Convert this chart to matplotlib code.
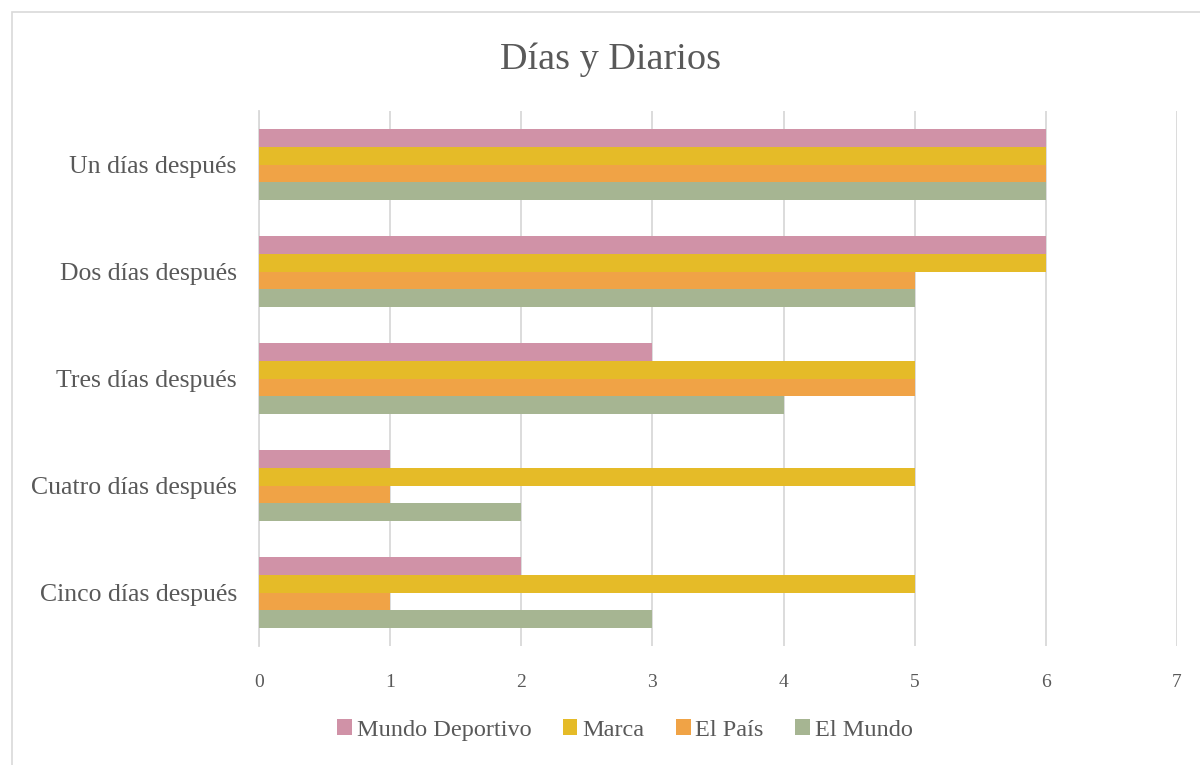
import numpy as np
import matplotlib.pyplot as plt
from matplotlib.patches import Rectangle

# Data
categories = ['Un días después', 'Dos días después', 'Tres días después',
              'Cuatro días después', 'Cinco días después']
series_names = ['Mundo Deportivo', 'Marca', 'El País', 'El Mundo']
mundo_deportivo = [6, 6, 3, 1, 2]
marca = [6, 6, 5, 5, 5]
el_pais = [6, 5, 5, 1, 1]
el_mundo = [6, 5, 4, 2, 3]
x_ticks = [0, 1, 2, 3, 4, 5, 6, 7]

colors = ['#D092A7', '#E5BB28', '#F0A346', '#A6B592']
text_color = '#595959'
grid_color = '#D9D9D9'

plt.rcParams['font.family'] = ['Liberation Serif', 'DejaVu Serif']

fig = plt.figure(figsize=(12, 7.65), dpi=100)
ax = fig.add_axes([259 / 1200, 1 - 646 / 765, (1177 - 259) / 1200, (646 - 111) / 765])

# chart border
fig.patches.append(Rectangle((12 / 1200, -0.1), 1.2, 1 - 12 / 765 + 0.1,
                             transform=fig.transFigure, fill=False,
                             edgecolor='#D9D9D9', linewidth=1.2))

values = [mundo_deportivo, marca, el_pais, el_mundo]
n = len(categories)
y = np.arange(n)[::-1]  # first category on top
bar_h = 0.168
offsets = np.array([1.5, 0.5, -0.5, -1.5]) * bar_h

for vals, off, col, name in zip(values, offsets, colors, series_names):
    ax.barh(y + off, vals, height=bar_h, color=col, label=name, zorder=3)

ax.set_xlim(0, 7)
ax.set_ylim(-0.5, n - 0.5)
ax.set_xticks(x_ticks)
ax.set_xticklabels([str(t) for t in x_ticks])
ax.set_yticks(y)
ax.set_yticklabels(categories)

ax.grid(axis='x', color=grid_color, linewidth=1.3, zorder=0)
ax.set_axisbelow(True)
for s in ['top', 'right', 'bottom']:
    ax.spines[s].set_visible(False)
ax.spines['left'].set_color(grid_color)
ax.spines['left'].set_linewidth(1.3)
ax.tick_params(axis='x', length=0, pad=20, labelsize=14, labelcolor=text_color)
ax.tick_params(axis='y', length=0, pad=16, labelsize=18.5, labelcolor=text_color)

fig.text(611 / 1200, 1 - 60 / 765, 'Días y Diarios', ha='center', va='center',
         fontsize=27.5, color=text_color)

fig.legend(loc='center', bbox_to_anchor=(625 / 1200, 1 - 730 / 765), ncol=4,
           frameon=False, fontsize=17.5, labelcolor=text_color,
           handlelength=0.6, handleheight=0.6, handletextpad=0.2, columnspacing=1.3)

fig.savefig('out.png', dpi=100)
